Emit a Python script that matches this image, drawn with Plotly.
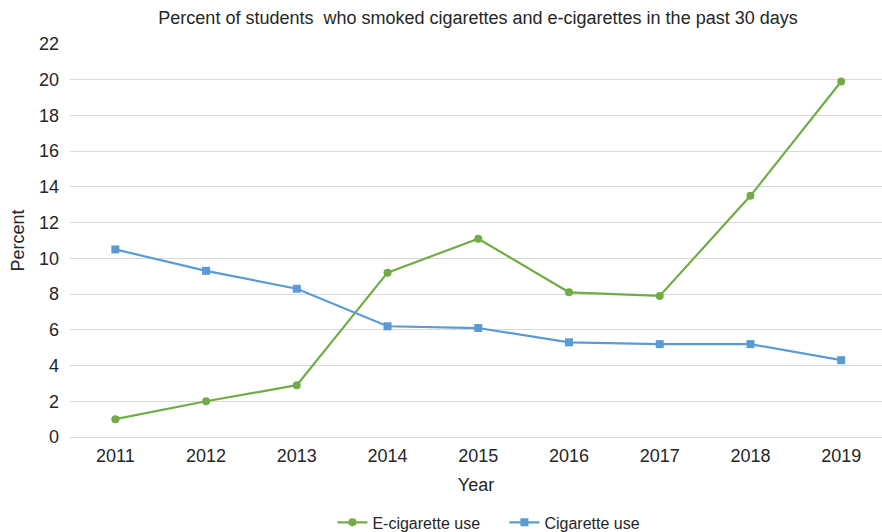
import plotly.graph_objects as go

years = ["2011", "2012", "2013", "2014", "2015", "2016", "2017", "2018", "2019"]
ecig = [1.0, 2.0, 2.9, 9.2, 11.1, 8.1, 7.9, 13.5, 19.9]
cig = [10.5, 9.3, 8.3, 6.2, 6.1, 5.3, 5.2, 5.2, 4.3]

GREEN = "#70AD47"
BLUE = "#5B9BD5"
TXT = "#262626"
FONT = "Liberation Sans, Arial, sans-serif"

fig = go.Figure()
fig.add_trace(go.Scatter(x=years, y=ecig, mode="lines+markers", name="E-cigarette use",
                         line=dict(color=GREEN, width=2.2),
                         marker=dict(symbol="circle", size=8, color=GREEN)))
fig.add_trace(go.Scatter(x=years, y=cig, mode="lines+markers", name="Cigarette use",
                         line=dict(color=BLUE, width=2.2),
                         marker=dict(symbol="square", size=8, color=BLUE)))

fig.update_layout(
    width=882, height=532,
    margin=dict(l=70, r=0, t=44, b=95, autoexpand=False),
    paper_bgcolor="white", plot_bgcolor="white",
    font=dict(family=FONT, color=TXT),
    title=dict(text="Percent of students  who smoked cigarettes and e-cigarettes in the past 30 days",
               x=0.542, xanchor="center", y=0.966, yanchor="middle",
               font=dict(size=18, color=TXT)),
    showlegend=True,
    legend=dict(orientation="h", x=0.535, xanchor="center", xref="paper",
                yref="container", y=0.018, yanchor="middle",
                font=dict(size=16, color=TXT), itemwidth=30,
                entrywidth=127, entrywidthmode="pixels"),
)
fig.update_xaxes(type="category", range=[-0.5, 8.45], showgrid=False, showline=False,
                 zeroline=False, ticks="", tickfont=dict(size=18, color=TXT),
                 title=dict(text="Year", font=dict(size=18, color=TXT), standoff=13),
                 ticklabelstandoff=6, automargin=False)
fig.update_yaxes(range=[0, 22], dtick=2, showgrid=True, gridcolor="#D9D9D9", gridwidth=1,
                 zeroline=True, zerolinecolor="#D9D9D9", zerolinewidth=1, showline=False,
                 ticks="", tickfont=dict(size=18, color=TXT),
                 title=dict(text="Percent", font=dict(size=18, color=TXT), standoff=9),
                 ticklabelstandoff=10, automargin=False)

fig.write_html("out.html")
